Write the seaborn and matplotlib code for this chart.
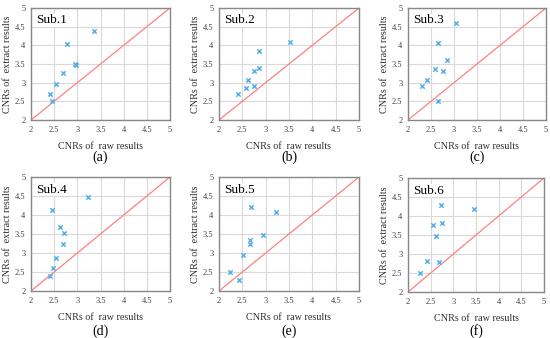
import matplotlib
matplotlib.use("Agg")
import matplotlib.pyplot as plt
import seaborn as sns
import pandas as pd

titles = ["Sub.1", "Sub.2", "Sub.3", "Sub.4", "Sub.5", "Sub.6"]
captions = ["(a)", "(b)", "(c)", "(d)", "(e)", "(f)"]

raw1 = [2.41, 2.46, 2.53, 2.68, 2.77, 2.94, 2.97, 3.35]
ext1 = [2.69, 2.51, 2.97, 3.25, 4.03, 3.49, 3.47, 4.38]
raw2 = [2.41, 2.58, 2.62, 2.74, 2.75, 2.86, 2.86, 3.53]
ext2 = [2.69, 2.85, 3.07, 3.30, 2.90, 3.84, 3.39, 4.09]
raw3 = [2.31, 2.42, 2.58, 2.65, 2.65, 2.76, 2.84, 3.04]
ext3 = [2.91, 3.08, 3.36, 4.05, 2.52, 3.30, 3.61, 4.61]
raw4 = [2.40, 2.47, 2.45, 2.53, 2.63, 2.72, 2.68, 3.23]
ext4 = [2.40, 2.60, 4.12, 2.86, 3.69, 3.52, 3.24, 4.48]
raw5 = [2.24, 2.42, 2.52, 2.66, 2.67, 2.68, 2.94, 3.22]
ext5 = [2.49, 2.30, 2.96, 3.34, 3.24, 4.22, 3.48, 4.07]
raw6 = [2.26, 2.41, 2.56, 2.61, 2.68, 2.72, 2.76, 3.45]
ext6 = [2.51, 2.82, 3.76, 3.47, 2.78, 4.29, 3.81, 4.18]

diag = [2, 5]
ticks = [2, 2.5, 3, 3.5, 4, 4.5, 5]
tick_labels = ["2", "2.5", "3", "3.5", "4", "4.5", "5"]

raws = [raw1, raw2, raw3, raw4, raw5, raw6]
exts = [ext1, ext2, ext3, ext4, ext5, ext6]

sns.set_theme(style="whitegrid")
plt.rcParams["font.family"] = ["Liberation Serif", "DejaVu Serif"]

fig = plt.figure(figsize=(5.5, 3.38), dpi=100)
W, H = 550, 338
boxes = [(31, 8, 170, 120), (219, 8, 359, 120), (408, 8, 546, 120),
         (31, 177, 170, 291), (219, 177, 359, 291), (408, 178, 544, 292)]
cap_y = [157, 157, 157, 331, 331, 331]

for i in range(6):
    x0, y0, x1, y1 = boxes[i]
    ax = fig.add_axes([x0 / W, 1 - y1 / H, (x1 - x0) / W, (y1 - y0) / H])
    df = pd.DataFrame({"raw": raws[i], "ext": exts[i]})
    dd = pd.DataFrame({"x": diag, "y": diag})
    sns.lineplot(data=dd, x="x", y="y", ax=ax, color="#ff8080", linewidth=0.9, zorder=2)
    sns.scatterplot(data=df, x="raw", y="ext", ax=ax, marker="x", color="#58b0ec",
                    s=10, linewidth=1.1, zorder=3)
    ax.set_xlim(2, 5)
    ax.set_ylim(2, 5)
    ax.set_xticks(ticks)
    ax.set_xticklabels(tick_labels)
    ax.set_yticks(ticks)
    ax.set_yticklabels(tick_labels)
    ax.tick_params(axis="both", labelsize=6, length=0, pad=4, colors="#404040")
    ax.grid(True, color="#d9d9d9", linewidth=0.8)
    for sp in ax.spines.values():
        sp.set_color("#888888")
        sp.set_linewidth(1.0)
    ax.set_xlabel("CNRs of  raw results", fontsize=7.3, color="#303030", labelpad=6)
    ax.set_ylabel("CNRs of  extract results", fontsize=7.3, color="#303030", labelpad=2)
    ax.text(0.04, 0.89, titles[i], transform=ax.transAxes, fontsize=9.5, ha="left",
            va="center", color="black",
            bbox=dict(facecolor="white", edgecolor="none", pad=0.5), zorder=4)
    fig.text((x0 + x1) / 2 / W, 1 - cap_y[i] / H, captions[i], fontsize=10,
             ha="center", va="center", color="black")

fig.savefig("out.png", dpi=100, facecolor="white")
